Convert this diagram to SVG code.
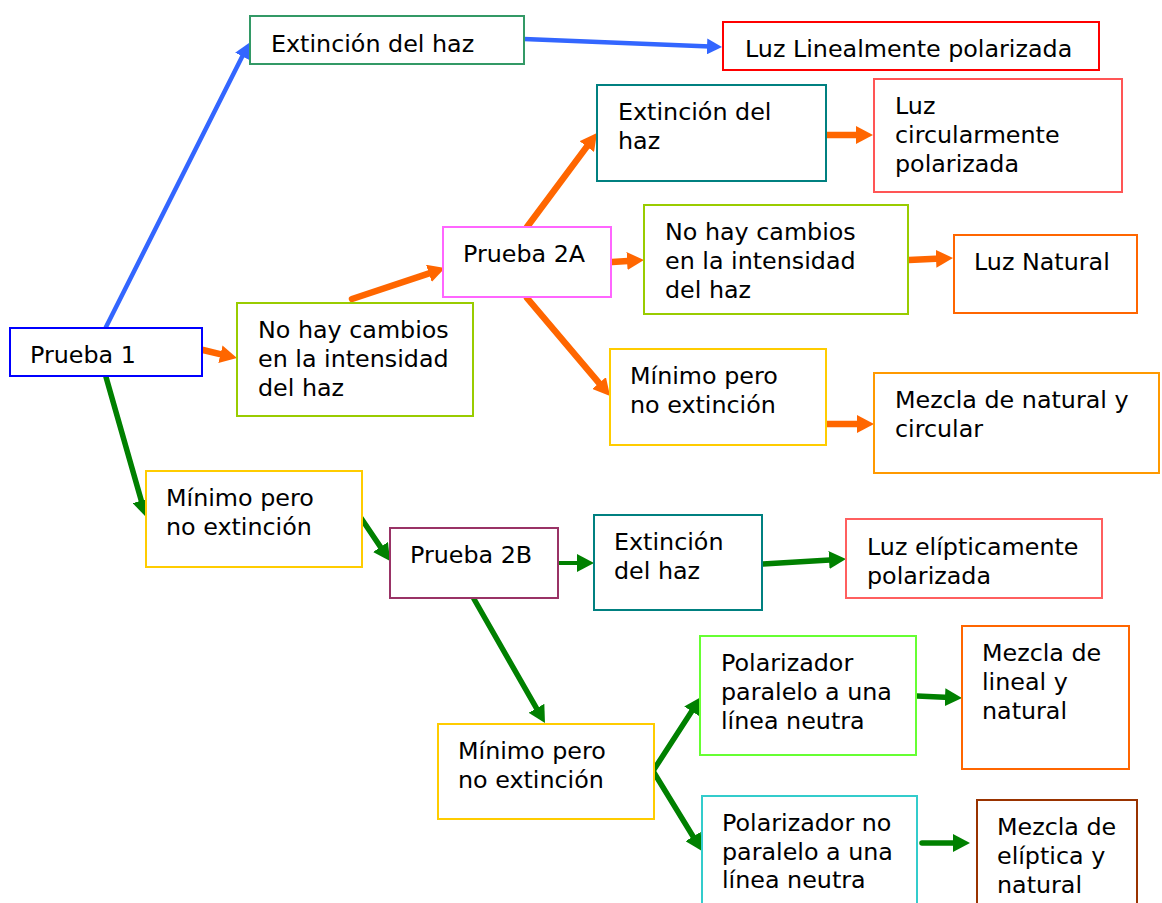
<svg xmlns="http://www.w3.org/2000/svg" width="1162" height="903" viewBox="0 0 1162 903">
<style>
  .box { fill: #ffffff; stroke-width: 2; }
  text { font-family: "DejaVu Sans", Verdana, sans-serif; font-size: 23.8px; fill: #000000; }
  .c { fill: none; stroke-linecap: round; }
  .blue { stroke: #3366ff; stroke-width: 4.5; marker-end: url(#aBlue); }
  .orange { stroke: #ff6600; stroke-width: 6.5; marker-end: url(#aOrange); }
  .green { stroke: #008000; stroke-width: 5.5; marker-end: url(#aGreen); }
</style>
<defs>
  <marker id="aBlue" markerUnits="userSpaceOnUse" markerWidth="15" markerHeight="16" refX="3" refY="8" orient="auto">
    <path d="M0,0 L15,8 L0,16 z" fill="#3366ff"/>
  </marker>
  <marker id="aOrange" markerUnits="userSpaceOnUse" markerWidth="17" markerHeight="18" refX="5" refY="9" orient="auto">
    <path d="M0,0 L17,9 L0,18 z" fill="#ff6600"/>
  </marker>
  <marker id="aGreen" markerUnits="userSpaceOnUse" markerWidth="17" markerHeight="18" refX="5" refY="9" orient="auto">
    <path d="M0,0 L17,9 L0,18 z" fill="#008000"/>
  </marker>
</defs>
<rect width="1162" height="903" fill="#ffffff"/>

<g id="connectors">
  <line class="c blue" x1="106" y1="327" x2="243.6" y2="53.7"/>
  <line class="c blue" x1="524" y1="39" x2="710" y2="46.5"/>

  <line class="c orange" x1="203" y1="350" x2="225.3" y2="355.3"/>
  <line class="c orange" x1="352" y1="299" x2="433.6" y2="271.8"/>
  <line class="c orange" x1="527" y1="227" x2="589.8" y2="142.6"/>
  <line class="c orange" x1="612" y1="262" x2="632" y2="260.7"/>
  <line class="c orange" x1="527" y1="298" x2="602.3" y2="386.8"/>
  <line class="c orange" x1="827" y1="135" x2="861" y2="135"/>
  <line class="c orange" x1="909" y1="260" x2="941" y2="258.5"/>
  <line class="c orange" x1="827" y1="424" x2="862" y2="424"/>

  <line class="c green" x1="106" y1="377" x2="142.7" y2="505.5"/>
  <line class="c green" x1="361" y1="518" x2="383.3" y2="551.1"/>
  <line class="c green" x1="559" y1="563" x2="582" y2="563" style="stroke-width:4"/>
  <line class="c green" x1="763" y1="564" x2="834" y2="559.7"/>
  <line class="c green" x1="474" y1="599" x2="539" y2="712.6"/>
  <line class="c green" x1="653" y1="771" x2="694.5" y2="707.1"/>
  <line class="c green" x1="653" y1="771" x2="695.7" y2="840.8"/>
  <line class="c green" x1="917" y1="696" x2="950" y2="697.5"/>
  <line class="c green" x1="922" y1="843" x2="958" y2="843"/>
</g>

<g id="prueba1">
  <rect class="box" x="10" y="328" width="192" height="48" stroke="#0000ff"/>
  <text x="30" y="363">Prueba 1</text>
</g>
<g id="extincion1">
  <rect class="box" x="250" y="16" width="274" height="48" stroke="#339966"/>
  <text x="271" y="52">Extinción del haz</text>
</g>
<g id="luzLineal">
  <rect class="box" x="723" y="22" width="376" height="48" stroke="#ff0000"/>
  <text x="745" y="57">Luz Linealmente polarizada</text>
</g>
<g id="noCambios1">
  <rect class="box" x="237" y="303" width="236" height="113" stroke="#99cc00"/>
  <text x="258" y="338">No hay cambios</text>
  <text x="258" y="367">en la intensidad</text>
  <text x="258" y="396">del haz</text>
</g>
<g id="prueba2A">
  <rect class="box" x="443" y="227" width="168" height="70" stroke="#ff66ff"/>
  <text x="463" y="262">Prueba 2A</text>
</g>
<g id="extincion2A">
  <rect class="box" x="597" y="85" width="229" height="96" stroke="#008080"/>
  <text x="618" y="120">Extinción del</text>
  <text x="618" y="149">haz</text>
</g>
<g id="luzCircular">
  <rect class="box" x="874" y="79" width="248" height="113" stroke="#ff5555"/>
  <text x="895" y="114">Luz</text>
  <text x="895" y="143">circularmente</text>
  <text x="895" y="172">polarizada</text>
</g>
<g id="noCambios2A">
  <rect class="box" x="644" y="205" width="264" height="109" stroke="#99cc00"/>
  <text x="665" y="240">No hay cambios</text>
  <text x="665" y="269">en la intensidad</text>
  <text x="665" y="298">del haz</text>
</g>
<g id="luzNatural">
  <rect class="box" x="954" y="235" width="183" height="78" stroke="#ff6600"/>
  <text x="974" y="270">Luz Natural</text>
</g>
<g id="minimo2A">
  <rect class="box" x="610" y="349" width="216" height="96" stroke="#ffcc00"/>
  <text x="630" y="384">Mínimo pero</text>
  <text x="630" y="413">no extinción</text>
</g>
<g id="mezclaNatCirc">
  <rect class="box" x="874" y="373" width="285" height="100" stroke="#ff9900"/>
  <text x="895" y="408">Mezcla de natural y</text>
  <text x="895" y="437">circular</text>
</g>
<g id="minimo1">
  <rect class="box" x="146" y="471" width="216" height="96" stroke="#ffcc00"/>
  <text x="166" y="506">Mínimo pero</text>
  <text x="166" y="535">no extinción</text>
</g>
<g id="prueba2B">
  <rect class="box" x="390" y="528" width="168" height="70" stroke="#993366"/>
  <text x="410" y="563">Prueba 2B</text>
</g>
<g id="extincion2B">
  <rect class="box" x="594" y="515" width="168" height="95" stroke="#008080"/>
  <text x="614" y="550">Extinción</text>
  <text x="614" y="579">del haz</text>
</g>
<g id="luzEliptica">
  <rect class="box" x="846" y="519" width="256" height="79" stroke="#ff5f5f"/>
  <text x="867" y="555">Luz elípticamente</text>
  <text x="867" y="584">polarizada</text>
</g>
<g id="minimo2B">
  <rect class="box" x="438" y="724" width="216" height="95" stroke="#ffcc00"/>
  <text x="458" y="759">Mínimo pero</text>
  <text x="458" y="788">no extinción</text>
</g>
<g id="polParalelo">
  <rect class="box" x="700" y="636" width="216" height="119" stroke="#66ff33"/>
  <text x="721" y="671">Polarizador</text>
  <text x="721" y="700">paralelo a una</text>
  <text x="721" y="729">línea neutra</text>
</g>
<g id="mezclaLineal">
  <rect class="box" x="962" y="626" width="167" height="143" stroke="#ff6600"/>
  <text x="982" y="661">Mezcla de</text>
  <text x="982" y="690">lineal y</text>
  <text x="982" y="719">natural</text>
</g>
<g id="polNoParalelo">
  <rect class="box" x="702" y="796" width="215" height="120" stroke="#33cccc"/>
  <text x="722" y="831">Polarizador no</text>
  <text x="722" y="860">paralelo a una</text>
  <text x="722" y="888">línea neutra</text>
</g>
<g id="mezclaEliptica">
  <rect class="box" x="977" y="800" width="160" height="116" stroke="#993300"/>
  <text x="997" y="835">Mezcla de</text>
  <text x="997" y="864">elíptica y</text>
  <text x="997" y="893">natural</text>
</g>
</svg>
